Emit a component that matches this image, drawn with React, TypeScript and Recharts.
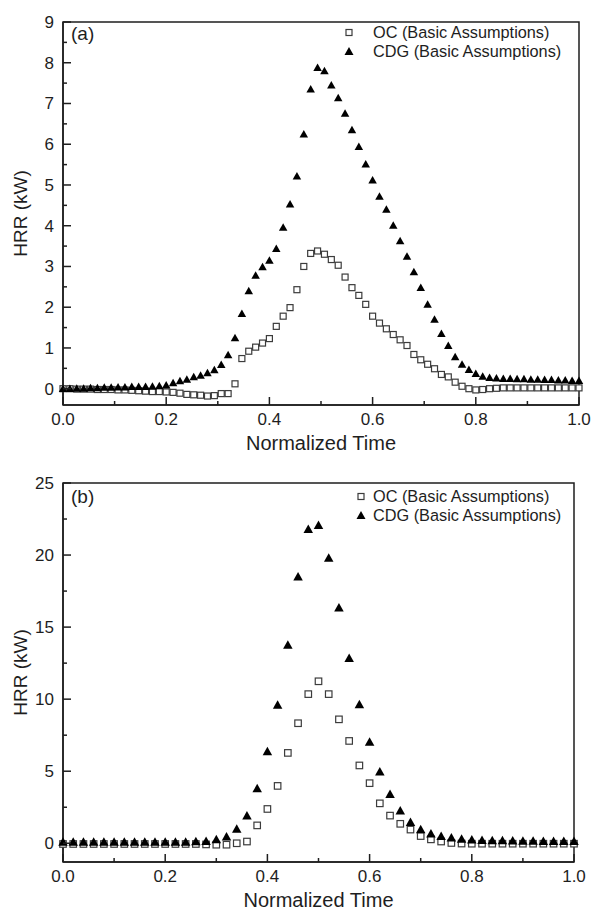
import React from "react";
import { Legend, ReferenceArea, Scatter, ScatterChart, XAxis, YAxis } from "recharts";

const FONT = '"Liberation Sans", Arial, Helvetica, sans-serif';
const INK = "#1e1e1e";

// panel (a): 76 samples, t = i / 75
const OC_A = [
  0.0, 0.0, -0.01, -0.01, -0.01, -0.02, -0.02, -0.02, -0.03, -0.03,
  -0.04, -0.05, -0.06, -0.07, -0.07, -0.08, -0.09, -0.11, -0.14, -0.15,
  -0.16, -0.18, -0.17, -0.12, -0.12, 0.12, 0.74, 0.92, 1.02, 1.12,
  1.23, 1.53, 1.78, 1.99, 2.43, 3.0, 3.32, 3.38, 3.3, 3.17,
  3.03, 2.74, 2.48, 2.29, 2.07, 1.78, 1.61, 1.47, 1.33, 1.2,
  1.06, 0.84, 0.71, 0.6, 0.49, 0.35, 0.29, 0.16, 0.06, 0.0,
  -0.03, -0.02, 0.0, 0.01, 0.02, 0.02, 0.02, 0.02, 0.02, 0.02,
  0.02, 0.02, 0.02, 0.02, 0.02, 0.02,
];
const CDG_A = [
  0.0, 0.0, 0.01, 0.01, 0.02, 0.02, 0.03, 0.03, 0.04, 0.04,
  0.05, 0.05, 0.05, 0.06, 0.07, 0.09, 0.14, 0.19, 0.23, 0.29,
  0.33, 0.39, 0.46, 0.59, 0.83, 1.25, 1.84, 2.4, 2.78, 2.99,
  3.15, 3.44, 3.96, 4.53, 5.22, 6.25, 7.35, 7.88, 7.8, 7.45,
  7.14, 6.76, 6.35, 5.94, 5.51, 5.12, 4.72, 4.4, 4.01, 3.63,
  3.25, 2.87, 2.48, 2.07, 1.7, 1.35, 1.06, 0.78, 0.6, 0.47,
  0.37, 0.3, 0.27, 0.26, 0.25, 0.25, 0.24, 0.24, 0.23, 0.23,
  0.22, 0.22, 0.21, 0.21, 0.2, 0.2,
];

// panel (b): 51 samples, t = i / 50
const OC_B = [
  -0.05, -0.05, -0.05, -0.05, -0.05, -0.05, -0.05, -0.05, -0.05, -0.05,
  -0.05, -0.05, -0.05, -0.05, -0.08, -0.1, -0.1, 0.0, 0.12, 1.24,
  2.38, 3.98, 6.27, 8.33, 10.35, 11.24, 10.35, 8.6, 7.1, 5.4,
  4.17, 2.77, 1.92, 1.35, 0.95, 0.5, 0.27, 0.12, 0.02, -0.02,
  -0.03, -0.03, -0.03, -0.03, -0.03, -0.03, -0.03, -0.03, -0.03, -0.03,
  -0.03,
];
const CDG_B = [
  0.1, 0.1, 0.1, 0.1, 0.1, 0.1, 0.1, 0.1, 0.1, 0.1,
  0.1, 0.1, 0.1, 0.12, 0.15, 0.27, 0.45, 1.0, 1.92, 3.8,
  6.37, 9.6, 13.76, 18.5, 21.8, 22.07, 19.8, 16.35, 12.84, 9.64,
  7.03, 4.97, 3.41, 2.27, 1.46, 0.96, 0.67, 0.5, 0.38, 0.3,
  0.25, 0.22, 0.2, 0.19, 0.18, 0.17, 0.16, 0.15, 0.15, 0.14,
  0.14,
];

const SERIES_NAMES = ["OC (Basic Assumptions)", "CDG (Basic Assumptions)"];

const X_TICKS = [0, 0.1, 0.2, 0.3, 0.4, 0.5, 0.6, 0.7, 0.8, 0.9, 1.0];
const X_LABELED = [0, 0.2, 0.4, 0.6, 0.8, 1.0];
const Y_TICKS_A = [0, 0.5, 1, 1.5, 2, 2.5, 3, 3.5, 4, 4.5, 5, 5.5, 6, 6.5, 7, 7.5, 8, 8.5, 9];
const Y_LABELED_A = [0, 1, 2, 3, 4, 5, 6, 7, 8, 9];
const Y_TICKS_B = [0, 2.5, 5, 7.5, 10, 12.5, 15, 17.5, 20, 22.5, 25];
const Y_LABELED_B = [0, 5, 10, 15, 20, 25];

const toPoints = (vals: number[]) => vals.map((v, i) => ({ t: i / (vals.length - 1), v }));

const has = (list: number[], v: number) => list.some((l) => Math.abs(l - v) < 1e-6);

const makeXTick = (labeled: number[]) => (props: any) => {
  const { x, y, payload } = props;
  const v = payload.value as number;
  const major = has(labeled, v);
  return (
    <g>
      <line x1={x} x2={x} y1={y} y2={y - (major ? 8 : 4)} stroke={INK} strokeWidth={1.5} />
      {major ? (
        <text x={x} y={y + 20} textAnchor="middle" fontSize={17} fontFamily={FONT} fill={INK}>
          {v.toFixed(1)}
        </text>
      ) : null}
    </g>
  );
};

const makeYTick = (labeled: number[]) => (props: any) => {
  const { x, y, payload } = props;
  const v = payload.value as number;
  const major = has(labeled, v);
  return (
    <g>
      <line x1={x} x2={x + (major ? 8 : 4)} y1={y} y2={y} stroke={INK} strokeWidth={1.5} />
      {major ? (
        <text x={x - 9} y={y + 6} textAnchor="end" fontSize={17} fontFamily={FONT} fill={INK}>
          {String(v)}
        </text>
      ) : null}
    </g>
  );
};

const xTitle = (props: any) => {
  const vb = props.viewBox;
  return (
    <text x={vb.x + vb.width / 2} y={vb.y + 45} textAnchor="middle" fontSize={20} fontFamily={FONT} fill={INK}>
      Normalized Time
    </text>
  );
};

const yTitle = (props: any) => {
  const vb = props.viewBox;
  const cx = vb.x - 3;
  const cy = vb.y + vb.height / 2;
  return (
    <text
      x={cx}
      y={cy}
      transform={`rotate(-90 ${cx} ${cy})`}
      textAnchor="middle"
      dominantBaseline="central"
      fontSize={19}
      fontFamily={FONT}
      fill={INK}
    >
      HRR (kW)
    </text>
  );
};

const makeSquare = (s: number) => (p: any) => (
  <rect x={p.cx - s / 2} y={p.cy - s / 2} width={s} height={s} fill="#fff" stroke="#3c3c3c" strokeWidth={1.2} />
);

const makeTriangle = (w: number, h: number) => (p: any) => (
  <polygon
    points={`${p.cx},${p.cy - h * 0.55} ${p.cx - w / 2},${p.cy + h * 0.45} ${p.cx + w / 2},${p.cy + h * 0.45}`}
    fill="#000"
  />
);

function LegendBox({ gap, textGap }: { gap: number; textGap: number }) {
  const w = 18;
  return (
    <div style={{ fontFamily: FONT, fontSize: 16.3, color: INK, lineHeight: `${gap}px` }}>
      {SERIES_NAMES.map((name, idx) => (
        <div key={name} style={{ display: "flex", alignItems: "center", whiteSpace: "nowrap" }}>
          <svg width={w} height={gap} style={{ display: "block" }}>
            {idx === 0 ? (
              <rect x={w / 2 - 3} y={gap / 2 - 3} width={6} height={6} fill="#fff" stroke="#3c3c3c" strokeWidth={1.2} />
            ) : (
              <polygon
                points={`${w / 2},${gap / 2 - 4.5} ${w / 2 - 4.5},${gap / 2 + 3.5} ${w / 2 + 4.5},${gap / 2 + 3.5}`}
                fill="#000"
              />
            )}
          </svg>
          <span style={{ marginLeft: textGap }}>{name}</span>
        </div>
      ))}
    </div>
  );
}

type PanelProps = {
  tag: string;
  oc: number[];
  cdg: number[];
  yDomain: [number, number];
  yTicks: number[];
  yLabeled: number[];
  margin: { top: number; right: number; bottom: number; left: number };
  legendPos: { left: number; top: number };
  legendTextGap: number;
  tagPos: { left: number; top: number };
  sq: number;
  tri: [number, number];
};

function Panel(p: PanelProps) {
  return (
    <div style={{ position: "relative", width: 592, height: 456 }}>
      <ScatterChart width={592} height={456} margin={p.margin}>
        <XAxis
          type="number"
          dataKey="t"
          domain={[0, 1]}
          ticks={X_TICKS}
          interval={0}
          height={40}
          tickSize={0}
          tickMargin={0}
          tickLine={false}
          axisLine={{ stroke: INK, strokeWidth: 1.5 }}
          tick={makeXTick(X_LABELED)}
          label={xTitle}
        />
        <YAxis
          type="number"
          dataKey="v"
          domain={p.yDomain}
          ticks={p.yTicks}
          interval={0}
          width={40}
          tickSize={0}
          tickMargin={0}
          tickLine={false}
          axisLine={{ stroke: INK, strokeWidth: 1.5 }}
          tick={makeYTick(p.yLabeled)}
          label={yTitle}
        />
        <ReferenceArea
          x1={0}
          x2={1}
          y1={p.yDomain[0]}
          y2={p.yDomain[1]}
          fill="none"
          fillOpacity={0}
          stroke={INK}
          strokeWidth={1.5}
        />
        <Scatter
          name={SERIES_NAMES[0]}
          data={toPoints(p.oc)}
          shape={makeSquare(p.sq)}
          isAnimationActive={false}
        />
        <Scatter
          name={SERIES_NAMES[1]}
          data={toPoints(p.cdg)}
          shape={makeTriangle(p.tri[0], p.tri[1])}
          isAnimationActive={false}
        />
        <Legend
          layout="horizontal"
          verticalAlign="middle"
          align="center"
          wrapperStyle={{ left: p.legendPos.left, top: p.legendPos.top, width: 240 }}
          content={() => <LegendBox gap={19} textGap={p.legendTextGap} />}
        />
      </ScatterChart>
      <div
        style={{
          position: "absolute",
          left: p.tagPos.left,
          top: p.tagPos.top,
          fontFamily: FONT,
          fontSize: 19,
          color: INK,
          lineHeight: "20px",
        }}
      >
        {p.tag}
      </div>
    </div>
  );
}

export default function App() {
  return (
    <div style={{ position: "absolute", left: 0, top: 0, width: 592, height: 912, background: "#fff" }}>
      <Panel
        tag="(a)"
        oc={OC_A}
        cdg={CDG_A}
        yDomain={[-0.4, 9]}
        yTicks={Y_TICKS_A}
        yLabeled={Y_LABELED_A}
        margin={{ top: 22, right: 13, bottom: 11, left: 23 }}
        legendPos={{ left: 340, top: 23 }}
        legendTextGap={15}
        tagPos={{ left: 71, top: 24 }}
        sq={6}
        tri={[8.5, 7.5]}
      />
      <Panel
        tag="(b)"
        oc={OC_B}
        cdg={CDG_B}
        yDomain={[-1.3, 25]}
        yTicks={Y_TICKS_B}
        yLabeled={Y_LABELED_B}
        margin={{ top: 27, right: 18, bottom: 10, left: 23 }}
        legendPos={{ left: 352, top: 31 }}
        legendTextGap={3}
        tagPos={{ left: 71, top: 31 }}
        sq={6.5}
        tri={[9.5, 8.5]}
      />
    </div>
  );
}
